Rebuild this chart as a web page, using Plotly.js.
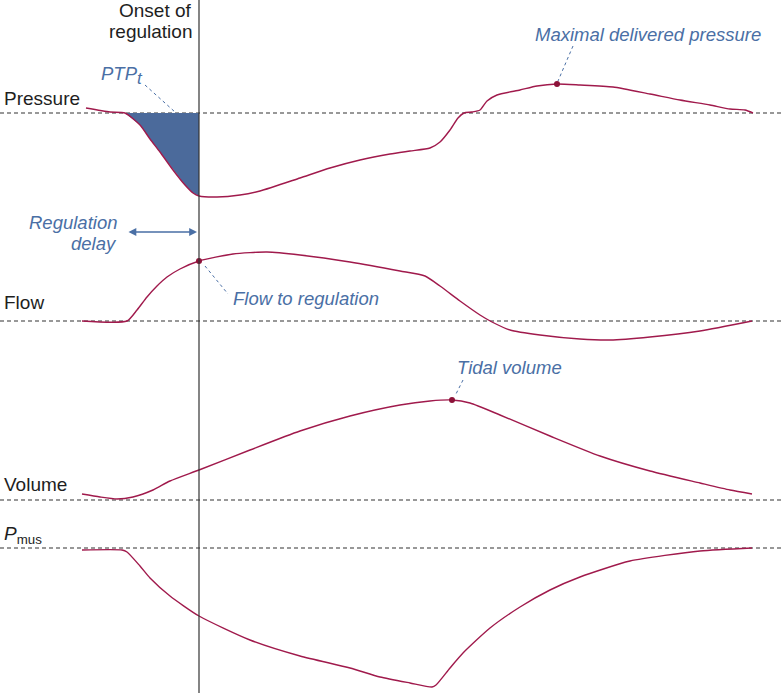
<!DOCTYPE html>
<html>
<head>
<meta charset="utf-8">
<script src="https://cdn.plot.ly/plotly-3.0.1.min.js"></script>
<style>
  html, body { margin: 0; padding: 0; background: #fff; }
  #chart { width: 784px; height: 693px; }
</style>
</head>
<body>
<div id="chart"></div>
<script>
// schematic traces, x = time (px), y = screen row (px, downwards)
const ONSET = 199;

const pressureT = [86, 110, 125, 140, 150, 160, 173, 185, 193, 199, 217, 240, 260, 300, 330, 360, 390, 410, 430, 440, 450, 458, 464, 472, 480, 487, 497, 520, 537, 557, 580, 613, 650, 680, 710, 730, 745, 753];
const pressureY = [108, 112, 113, 125, 139, 152, 170, 185, 193, 196, 197, 195, 191, 178, 168, 160, 154, 151, 148, 142, 130, 118, 113, 112, 110, 101, 95, 90, 86, 84, 85, 87, 94, 100, 105, 109, 110, 113];

const flowT = [82, 127, 137, 147, 157, 167, 180, 199, 233, 267, 300, 350, 400, 425, 440, 460, 480, 492, 510, 540, 580, 610, 650, 700, 752];
const flowY = [321, 321, 310, 297, 286, 277, 269, 261, 254, 252, 255, 262, 271, 276, 286, 301, 315, 322, 330, 335, 339, 340, 337, 331, 321];

const volumeT = [82, 100, 117, 133, 153, 170, 199, 250, 300, 350, 400, 430, 452, 470, 500, 550, 600, 650, 700, 730, 752];
const volumeY = [494, 497, 499, 497, 490, 481, 470, 450, 431, 416, 405, 401, 400, 403, 415, 436, 456, 471, 483, 490, 494];

const pmusT = [82, 122, 127, 140, 150, 170, 199, 250, 300, 350, 380, 410, 432, 436, 450, 463, 490, 520, 550, 580, 630, 700, 752];
const pmusY = [550, 550, 552, 566, 578, 596, 616, 640, 656, 668, 677, 683, 687, 685, 668, 653, 628, 607, 590, 577, 561, 551, 548];

const baselines = [113, 321, 500, 548];
const rowLabels = ["Pressure", "Flow", "Volume", "<i>P</i><sub>mus</sub>"];
const rowLabelY = [98, 302, 484, 535];

// marked points
const markT = [557, 199, 452];
const markY = [84, 261, 400];

const CURVE = "#a01a4c";
const BLUE = "#4a6fa5";
const INK = "#1e1e1e";
const FONT = "Liberation Sans, Arial, sans-serif";

const line = (x, y) => ({
  type: "scatter", mode: "lines", x, y,
  line: { color: CURVE, width: 1.4, shape: "spline", smoothing: 0.6 },
  hoverinfo: "skip"
});

// PTPt area: pressure below baseline from start of drop to onset
const fillX = [], fillY = [];
pressureT.forEach((t, i) => {
  if (t >= 125 && t <= ONSET) { fillX.push(t); fillY.push(pressureY[i]); }
});
fillX.push(ONSET, 125); fillY.push(baselines[0], baselines[0]);

const traces = [
  {
    type: "scatter", mode: "lines", x: fillX, y: fillY, fill: "toself",
    fillcolor: "#4b6a9b", line: { width: 0 }, hoverinfo: "skip"
  },
  line(pressureT, pressureY),
  line(flowT, flowY),
  line(volumeT, volumeY),
  line(pmusT, pmusY),
  {
    type: "scatter", mode: "markers", x: markT, y: markY,
    marker: { color: "#8c1238", size: 6 }, hoverinfo: "skip"
  }
];

const shapes = baselines.map(y => ({
  type: "line", xref: "x", yref: "y", x0: 0, x1: 784, y0: y, y1: y,
  line: { color: "#333", width: 1.2, dash: "4px,3px" }, layer: "below"
}));
shapes.push({
  type: "line", xref: "x", yref: "y", x0: ONSET, x1: ONSET, y0: 0, y1: 693,
  line: { color: "#333", width: 1.2 }
});
// dashed leaders
[[145, 85, 175, 112], [205, 266, 228, 294], [573, 46, 558, 81], [463, 380, 456, 394]].forEach(([x0, y0, x1, y1]) => {
  shapes.push({
    type: "line", xref: "x", yref: "y", x0, y0, x1, y1,
    line: { color: BLUE, width: 1, dash: "3px,3px" }
  });
});

const txt = (text, x, y, opts = {}) => Object.assign({
  text, x, y, xref: "x", yref: "y", showarrow: false,
  xanchor: "left", yanchor: "middle",
  font: { family: FONT, size: 19, color: INK }
}, opts);
const blue = { family: FONT, size: 18.5, color: BLUE };

const annotations = rowLabels.map((t, i) => txt(t, 2, rowLabelY[i]));
annotations.push(
  txt("Onset of", 194, 10, { xanchor: "right" }),
  txt("regulation", 194, 31, { xanchor: "right" }),
  txt("<i>PTP<sub><span style=\"font-size:17px\">t</span></sub></i>", 99, 75, { font: blue }),
  txt("<i>Regulation</i>", 119, 222, { xanchor: "right", font: blue }),
  txt("<i>delay</i>", 119, 243, { xanchor: "right", font: blue }),
  txt("<i>Flow to regulation</i>", 231, 298, { font: blue }),
  txt("<i>Maximal delivered pressure</i>", 533, 34, { font: blue }),
  txt("<i>Tidal volume</i>", 455, 367, { font: blue }),
  {
    x: 197, y: 232, ax: 127, ay: 232, xref: "x", yref: "y", axref: "x", ayref: "y",
    text: "", showarrow: true, arrowside: "end+start", arrowhead: 2, arrowsize: 1.2,
    arrowwidth: 1.3, arrowcolor: BLUE
  }
);

const layout = {
  width: 784, height: 693,
  margin: { l: 0, r: 0, t: 0, b: 0 },
  paper_bgcolor: "#fff", plot_bgcolor: "#fff",
  showlegend: false,
  xaxis: { range: [0, 784], visible: false, fixedrange: true },
  yaxis: { range: [693, 0], visible: false, fixedrange: true },
  shapes, annotations
};

Plotly.newPlot("chart", traces, layout, { staticPlot: true, displayModeBar: false });
</script>
</body>
</html>
